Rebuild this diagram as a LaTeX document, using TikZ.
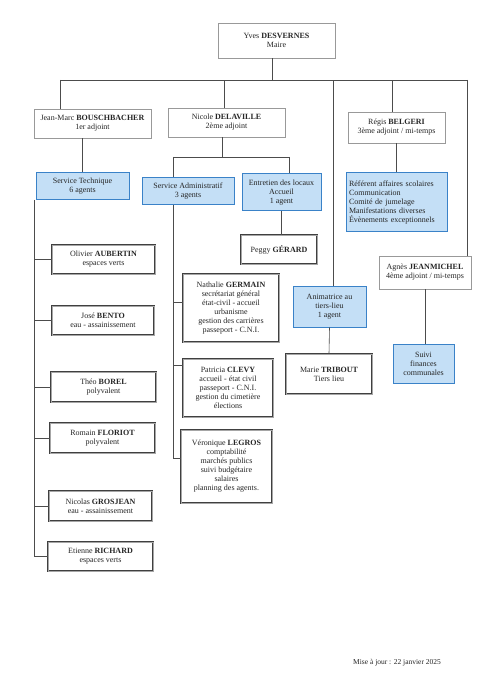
\documentclass[tikz,border=0pt]{standalone}
\usepackage{fontspec}
\setmainfont{Liberation Serif}
\begin{document}
\begin{tikzpicture}[x=1pt,y=-1pt,
  every node/.style={font=\fontsize{8}{9}\selectfont, text=black!85, inner sep=1pt},
  topbox/.style={draw=black!40, fill=white, line width=0.8pt, align=center},
  bluebox/.style={draw=blueline, fill=bluefill, line width=1pt, align=center},
  personbox/.style={draw=black!75, line width=0.6pt, double=black!35, double distance=0.6pt, fill=white, align=center},
  link/.style={draw=black!70, line width=0.6pt}
]
\definecolor{bluefill}{HTML}{C4DFF6}
\definecolor{blueline}{HTML}{3A82C8}
\useasboundingbox (0,0) rectangle (495,700);
\fill[white] (0,0) rectangle (495,700);

% top level
\node[topbox, minimum width=117pt, minimum height=35pt] (maire) at (276.5,40.5) {Yves \textbf{DESVERNES}\\Maire};
\node[topbox, minimum width=117pt, minimum height=29pt] (jm) at (92.5,123.5) {Jean-Marc \textbf{BOUSCHBACHER}\\1er adjoint};
\node[topbox, minimum width=117pt, minimum height=29pt] (nicole) at (226.5,122.5) {Nicole \textbf{DELAVILLE}\\2ème adjoint};
\node[topbox, minimum width=97pt, minimum height=31pt] (regis) at (396.5,127.5) {Régis \textbf{BELGERI}\\3ème adjoint / mi-temps};
\node[topbox, minimum width=92pt, minimum height=33pt] (agnes) at (425,272.5) {Agnès \textbf{JEANMICHEL}\\4ème adjoint / mi-temps};

% services (blue)
\node[bluebox, minimum width=93pt, minimum height=27pt] (st) at (82.5,186.5) {Service Technique\\6 agents};
\node[bluebox, minimum width=92pt, minimum height=27pt] (sa) at (188,191.5) {Service Administratif\\3 agents};
\node[bluebox, minimum width=79pt, minimum height=37pt] (ent) at (281.5,192.5) {Entretien des locaux\\Accueil\\1 agent};
\node[bluebox, minimum width=101pt, minimum height=59pt, text width=95pt, align=left, inner sep=3pt] (ref) at (396.5,202.5) {Référent affaires scolaires\\Communication\\Comité de jumelage\\Manifestations diverses\\Évènements exceptionnels};
\node[bluebox, minimum width=73pt, minimum height=41pt] (anim) at (329.5,306.5) {Animatrice au\\tiers-lieu\\1 agent};
\node[bluebox, minimum width=61pt, minimum height=39pt] (suivi) at (423.5,363.5) {Suivi\\finances\\communales};

% persons - technique
\node[personbox, minimum width=103pt, minimum height=29pt] (olivier) at (103.5,259.5) {Olivier \textbf{AUBERTIN}\\espaces verts};
\node[personbox, minimum width=102pt, minimum height=29pt] (jose) at (103,320.5) {José \textbf{BENTO}\\eau - assainissement};
\node[personbox, minimum width=105pt, minimum height=30pt] (theo) at (103.5,387) {Théo \textbf{BOREL}\\polyvalent};
\node[personbox, minimum width=105pt, minimum height=30pt] (romain) at (102.5,438) {Romain \textbf{FLORIOT}\\polyvalent};
\node[personbox, minimum width=103pt, minimum height=30pt] (nicolas) at (100.5,506) {Nicolas \textbf{GROSJEAN}\\eau - assainissement};
\node[personbox, minimum width=105pt, minimum height=29pt] (etienne) at (100.5,556.5) {Etienne \textbf{RICHARD}\\espaces verts};

% persons - administratif / others
\node[personbox, minimum width=76pt, minimum height=29pt] (peggy) at (279,249.5) {Peggy \textbf{GÉRARD}};
\node[personbox, minimum width=96pt, minimum height=68pt] (nathalie) at (231,308) {Nathalie \textbf{GERMAIN}\\secrétariat général\\état-civil - accueil\\urbanisme\\gestion des carrières\\passeport - C.N.I.};
\node[personbox, minimum width=90pt, minimum height=58pt] (patricia) at (228,388) {Patricia \textbf{CLEVY}\\accueil - état civil\\passeport - C.N.I.\\gestion du cimetière\\élections};
\node[personbox, minimum width=91pt, minimum height=73pt] (veronique) at (226.5,466.5) {Véronique \textbf{LEGROS}\\comptabilité\\marchés publics\\suivi budgétaire\\salaires\\planning des agents.};
\node[personbox, minimum width=86pt, minimum height=40pt] (marie) at (329,374) {Marie \textbf{TRIBOUT}\\Tiers lieu};

% footer
\node[anchor=west, font=\fontsize{7.5}{9}\selectfont] (maj) at (352,663) {Mise à jour : 22 janvier 2025};

% connectors
\coordinate (busL) at (60,80);
\coordinate (busR) at (467,80);
\draw[link] (busL) -- (busR);
\draw[link] ([xshift=-4.5pt]maire.south) -- ([xshift=-4.5pt]maire.south |- busL);
\draw[link] (busL) -- (busL |- jm.north);
\draw[link] ([xshift=-2.5pt]nicole.north) -- ([xshift=-2.5pt]nicole.north |- busL);
\draw[link] ([xshift=-4.5pt]regis.north) -- ([xshift=-4.5pt]regis.north |- busL);
\draw[link] ([xshift=3.5pt]anim.north) -- ([xshift=3.5pt]anim.north |- busL);
\draw[link] (busR) -- (busR |- agnes.north);

\draw[link] (st.north) -- (st.north |- jm.south);
\coordinate (nbL) at (173,157);
\coordinate (nbR) at (289,157);
\draw[link] ([xshift=-4.5pt]nicole.south) -- ([xshift=-4.5pt]nicole.south |- nbL);
\draw[link] (nbL) -- (nbR);
\draw[link] (nbL) -- (nbL |- sa.north);
\draw[link] (nbR) -- (nbR |- ent.north);
\draw[link] (regis.south) -- (ref.north);
\draw[link] (ent.south) -- (ent.south |- peggy.north);
\draw[link] (anim.south) -- (marie.north);
\draw[link] (agnes.south) -- (agnes.south |- suivi.north);

% technique tree
\coordinate (stv) at (34,200);
\draw[link] (stv) |- (etienne.west);
\draw[link] (olivier.west) -- (olivier.west -| stv);
\draw[link] (jose.west) -- (jose.west -| stv);
\draw[link] (theo.west) -- (theo.west -| stv);
\draw[link] (romain.west) -- (romain.west -| stv);
\draw[link] (nicolas.west) -- (nicolas.west -| stv);

% administratif tree
\coordinate (sav) at (173,205);
\draw[link] (sav) |- ([yshift=-29pt]veronique.north west);
\draw[link] ([yshift=-29pt]nathalie.north west) -- ([yshift=-29pt]nathalie.north west -| sav);
\draw[link] ([yshift=-7pt]patricia.north west) -- ([yshift=-7pt]patricia.north west -| sav);
\end{tikzpicture}
\end{document}
